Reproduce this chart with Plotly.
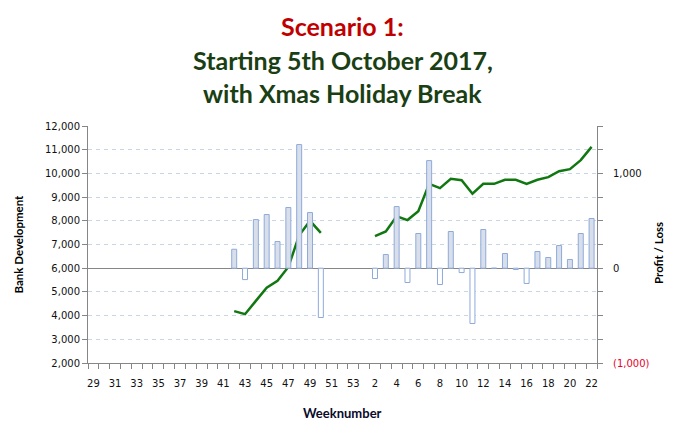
import plotly.graph_objects as go

# ---- data ----
weeks = [str(w) for w in list(range(29, 54)) + list(range(1, 23))]
week_labels = [w if i % 2 == 0 else "" for i, w in enumerate(weeks)]

profit_by_week = {
    "42": 200, "43": -120, "44": 513, "45": 566, "46": 281, "47": 640,
    "48": 1304, "49": 587, "50": -520,
    "2": -109, "3": 144, "4": 650, "5": -151, "6": 366, "7": 1135,
    "8": -172, "9": 387, "10": -46, "11": -583, "12": 408, "13": 0,
    "14": 155, "15": -14, "16": -161, "17": 176, "18": 113, "19": 239,
    "20": 92, "21": 366, "22": 524,
}
bank_by_week = {
    "42": 4190, "43": 4060, "44": 4620, "45": 5180, "46": 5470, "47": 6050,
    "48": 7390, "49": 8000, "50": 7490,
    "2": 7350, "3": 7550, "4": 8190, "5": 8030, "6": 8400, "7": 9560,
    "8": 9380, "9": 9770, "10": 9710, "11": 9140, "12": 9560, "13": 9560,
    "14": 9730, "15": 9730, "16": 9560, "17": 9730, "18": 9840, "19": 10090,
    "20": 10180, "21": 10560, "22": 11120,
}
profit = [profit_by_week.get(w) for w in weeks]
bank = [bank_by_week.get(w) for w in weeks]

left_ticks = list(range(2000, 12001, 1000))
right_tickvals = [-1000, 0, 1000]
right_ticktext = ["<span style='color:#e8002a'>(1,000)</span>", "0", "1,000"]

title_lines = ["Scenario 1:", "Starting 5th October 2017,", "with Xmas Holiday Break"]
title_colors = ["#c00000", "#1b3f14", "#1b3f14"]

# ---- styles ----
W, H = 675, 428
ML, MR, MT, MB = 88, 78, 126, 65
PW, PH = W - ML - MR, H - MT - MB
AXIS = "#868686"
GRID = "#c9d6e6"
BAR_EDGE = "#8eaadb"
BAR_FILL = "#d9dfea"
TICKFONT = dict(family="DejaVu Sans", size=10, color="#111111")

bar_fill = [BAR_FILL if (v is not None and v > 0) else "#ffffff" for v in profit]

fig = go.Figure()
fig.add_trace(go.Bar(
    x=weeks, y=profit, yaxis="y2", width=0.46,
    marker=dict(color=bar_fill, line=dict(color=BAR_EDGE, width=1)),
    showlegend=False, hoverinfo="x+y",
))
fig.add_trace(go.Scatter(
    x=weeks, y=bank, mode="lines", connectgaps=False,
    line=dict(color="#117711", width=2.5),
    showlegend=False,
))


def py(pix):
    """pixel y from top -> paper y"""
    return (H - MB - pix) / PH


annotations = []
for line, color, ypix in zip(title_lines, title_colors, [26, 60, 93]):
    annotations.append(dict(
        text="<b>" + line + "</b>", xref="paper", yref="paper",
        x=0.5, y=py(ypix), xanchor="center", yanchor="middle",
        showarrow=False,
        font=dict(family="Lato", size=25, color=color),
    ))
annotations += [
    dict(text="<b>Bank Development</b>", xref="paper", yref="paper",
         x=(18 - ML) / PW, y=0.5, textangle=-90, showarrow=False,
         xanchor="center", yanchor="middle",
         font=dict(family="Lato", size=11.5, color="#000000")),
    dict(text="<b>Profit / Loss</b>", xref="paper", yref="paper",
         x=(658 - ML) / PW, y=py(253), textangle=-90, showarrow=False,
         xanchor="center", yanchor="middle",
         font=dict(family="Lato", size=11.5, color="#000000")),
    dict(text="<b>Weeknumber</b>", xref="paper", yref="paper",
         x=0.5, y=py(413), showarrow=False,
         xanchor="center", yanchor="middle",
         font=dict(family="Lato", size=13, color="#0a0a2a")),
]

fig.update_layout(
    width=W, height=H,
    margin=dict(l=ML, r=MR, t=MT, b=MB, autoexpand=False),
    paper_bgcolor="white", plot_bgcolor="white",
    xaxis=dict(
        type="category", categoryorder="array", categoryarray=weeks,
        tickmode="array", tickvals=weeks, ticktext=week_labels, tickangle=0,
        tickson="boundaries", ticks="outside", ticklen=5, tickcolor=AXIS,
        showline=True, linecolor=AXIS, linewidth=1, automargin=False,
        showgrid=False, tickfont=TICKFONT, ticklabelstandoff=11,
    ),
    yaxis=dict(
        range=[2000, 12000], tickvals=left_ticks, tickformat=",d",
        ticks="outside", ticklen=5, tickcolor=AXIS, automargin=False,
        showline=True, linecolor=AXIS, linewidth=1,
        showgrid=True, gridcolor=GRID, griddash="4px,4px", gridwidth=1,
        zeroline=False, tickfont=TICKFONT,
    ),
    yaxis2=dict(
        overlaying="y", side="right", range=[-1000, 1500],
        tickmode="array", tickvals=right_tickvals, ticktext=right_ticktext,
        ticks="outside", ticklen=5, tickcolor=AXIS, automargin=False,
        minor=dict(tickmode="linear", tick0=0, dtick=250, ticks="outside",
                   ticklen=5, tickcolor=AXIS, showgrid=False),
        showline=True, linecolor=AXIS, linewidth=1,
        showgrid=False, zeroline=True, zerolinecolor=AXIS, zerolinewidth=1,
        tickfont=TICKFONT, ticklabelstandoff=8,
    ),
    annotations=annotations,
)

fig.write_html("out.html", config={"displayModeBar": False},
               post_script="document.body.style.margin='0';")
